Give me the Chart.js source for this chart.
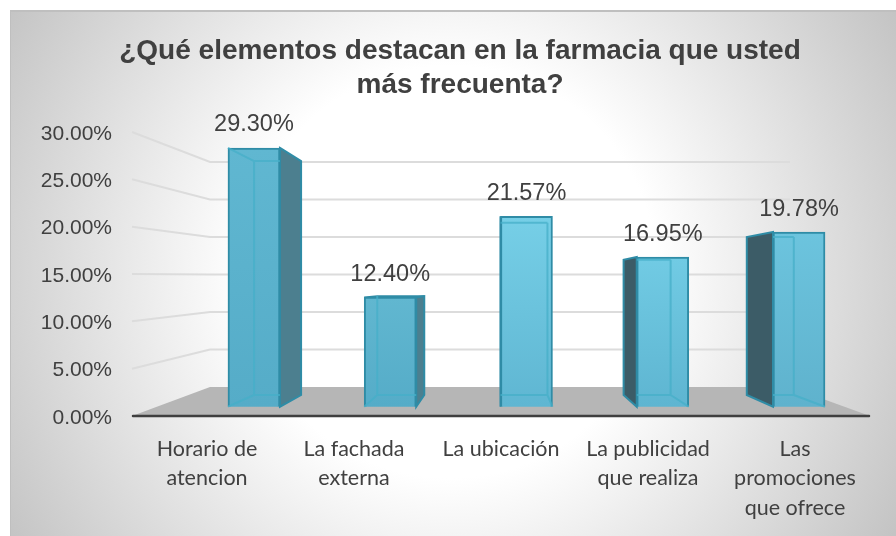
<!DOCTYPE html>
<html>
<head>
<meta charset="utf-8">
<style>
  html, body { margin: 0; padding: 0; background: #fff; }
  canvas { display: block; }
</style>
<script src="https://cdn.jsdelivr.net/npm/chart.js@4/dist/chart.umd.min.js"></script>
</head>
<body>
<canvas id="chart" width="896" height="536"></canvas>
<script>
const titleLines = ['¿Qué elementos destacan en la farmacia que usted', 'más frecuenta?'];
const categories = [
  ['Horario de', 'atencion'],
  ['La fachada', 'externa'],
  ['La ubicación'],
  ['La publicidad', 'que realiza'],
  ['Las', 'promociones', 'que ofrece']
];
const values = [29.30, 12.40, 21.57, 16.95, 19.78];

// shade of each front face, top and bottom
const faceTop = ['#60b7d1', '#61b7d0', '#76cfe7', '#71cbe4', '#6cc4de'];
const faceBottom = ['#55acc8', '#55acc8', '#5fb6d2', '#5eb5d1', '#5fb2cd'];

// the fake 3d: vanishing point and how far back the rear of a bar sits
const vanish = { x: 500, y: 285 };
const depth = 0.096;
const back = (x, y) => [x + (vanish.x - x) * depth, y + (vanish.y - y) * depth];

const textColor = '#404040';
const edgeColor = '#2f8ca6';

function poly(ctx, pts, fill, stroke, lw) {
  ctx.beginPath();
  pts.forEach((p, i) => i ? ctx.lineTo(p[0], p[1]) : ctx.moveTo(p[0], p[1]));
  ctx.closePath();
  if (fill) { ctx.fillStyle = fill; ctx.fill(); }
  if (stroke) { ctx.strokeStyle = stroke; ctx.lineWidth = lw; ctx.stroke(); }
}

const scene = {
  id: 'scene',
  afterLayout(chart) {
    // title sits right of the middle of the frame
    chart.titleBlock.left = 51.5;
  },
  beforeDraw(chart) {
    const ctx = chart.ctx;
    ctx.save();
    const g = ctx.createRadialGradient(450, 272, 0, 450, 272, 515);
    g.addColorStop(0, '#ffffff');
    g.addColorStop(0.4, '#ffffff');
    g.addColorStop(1, '#c4c4c4');
    ctx.fillStyle = g;
    ctx.fillRect(10, 10, 886, 526);
    ctx.fillStyle = '#bfbfbf';
    ctx.fillRect(10, 10, 886, 2);
    ctx.fillRect(10, 10, 1, 526);
    ctx.restore();
  },
  beforeDatasetsDraw(chart) {
    const ctx = chart.ctx;
    const { y, wall } = chart.scales;
    ctx.save();

    // floor
    poly(ctx, [[132, y.getPixelForValue(0)], [870, y.getPixelForValue(0)],
      [790, wall.getPixelForValue(0)], [210, wall.getPixelForValue(0)]], '#b6b6b6');

    // gridlines bend from the side wall onto the back wall
    ctx.strokeStyle = '#dcdcdc';
    ctx.lineWidth = 2;
    y.ticks.forEach(t => {
      if (t.value === 0) return;
      ctx.beginPath();
      ctx.moveTo(132, y.getPixelForValue(t.value));
      ctx.lineTo(210, wall.getPixelForValue(t.value));
      ctx.lineTo(790, wall.getPixelForValue(t.value));
      ctx.stroke();
    });

    // axis line
    ctx.strokeStyle = '#3f3f3f';
    ctx.lineWidth = 2.5;
    ctx.lineCap = 'round';
    ctx.beginPath();
    ctx.moveTo(133, y.getPixelForValue(0));
    ctx.lineTo(869, y.getPixelForValue(0));
    ctx.stroke();
    ctx.lineCap = 'butt';

    // rear, side and top of each bar
    chart.getDatasetMeta(0).data.forEach(el => {
      const x0 = el.x - el.width / 2, x1 = el.x + el.width / 2;
      const top = el.y, base = el.base;
      const bl = back(x0, top), br = back(x1, top), bbl = back(x0, base), bbr = back(x1, base);
      poly(ctx, [bl, br, bbr, bbl], '#5aaec8');
      if (bl[0] < x0) poly(ctx, [[x0, top], bl, bbl, [x0, base]], '#3c5c67', edgeColor, 2);
      if (br[0] > x1) poly(ctx, [[x1, top], br, bbr, [x1, base]], '#4c7f8f', edgeColor, 2);
      if (bl[1] < top) poly(ctx, [[x0, top], bl, br, [x1, top]], edgeColor, edgeColor, 1.5);
    });
    ctx.restore();
  },
  afterDatasetsDraw(chart) {
    const ctx = chart.ctx;
    ctx.save();
    chart.getDatasetMeta(0).data.forEach((el, i) => {
      const x0 = el.x - el.width / 2, x1 = el.x + el.width / 2;
      const top = el.y, base = el.base;
      const bl = back(x0, top), br = back(x1, top), bbl = back(x0, base), bbr = back(x1, base);

      // rear edges seen through the front
      ctx.strokeStyle = 'rgba(70,175,200,0.75)';
      ctx.lineWidth = 2;
      ctx.beginPath();
      if (bl[0] >= x0) { ctx.moveTo(bl[0], bl[1]); ctx.lineTo(bbl[0], bbl[1]); ctx.moveTo(x0, base); ctx.lineTo(bbl[0], bbl[1]); }
      if (br[0] <= x1) { ctx.moveTo(br[0], br[1]); ctx.lineTo(bbr[0], bbr[1]); ctx.moveTo(x1, base); ctx.lineTo(bbr[0], bbr[1]); }
      ctx.moveTo(Math.max(bbl[0], x0), bbl[1]); ctx.lineTo(Math.min(bbr[0], x1), bbr[1]);
      if (bl[1] > top) {
        ctx.moveTo(Math.max(bl[0], x0), bl[1]); ctx.lineTo(Math.min(br[0], x1), br[1]);
        if (bl[0] >= x0) { ctx.moveTo(x0, top); ctx.lineTo(bl[0], bl[1]); }
      }
      ctx.stroke();

      // value label
      ctx.fillStyle = textColor;
      ctx.font = '23.5px "Liberation Sans"';
      ctx.textAlign = 'center';
      ctx.textBaseline = 'middle';
      ctx.fillText(values[i].toFixed(2) + '%', el.x, top - 23);
    });
    ctx.restore();
  }
};

new Chart(document.getElementById('chart'), {
  type: 'bar',
  data: {
    labels: categories,
    datasets: [{
      data: values.map((v, i) => ({ x: i, y: v })),
      xAxisID: 'barsX',
      yAxisID: 'bars',
      barThickness: 52,
      borderWidth: 2,
      borderColor: edgeColor,
      backgroundColor(c) {
        const chart = c.chart;
        if (!chart.chartArea) return faceTop[c.dataIndex];
        const s = chart.scales.bars;
        const g = chart.ctx.createLinearGradient(0, s.getPixelForValue(values[c.dataIndex]), 0, s.getPixelForValue(0));
        g.addColorStop(0, faceTop[c.dataIndex]);
        g.addColorStop(1, faceBottom[c.dataIndex]);
        return g;
      }
    }]
  },
  plugins: [scene],
  options: {
    responsive: false,
    animation: false,
    layout: { padding: { left: 30, right: 27.5, top: 0, bottom: 0 } },
    plugins: {
      legend: { display: false },
      tooltip: { enabled: false },
      title: {
        display: true,
        text: titleLines,
        color: textColor,
        font: { family: '"Liberation Sans"', size: 28, weight: 'bold', lineHeight: 1.214 },
        padding: { top: 34, bottom: 30 }
      }
    },
    scales: {
      x: {
        offset: true,
        grid: { display: false },
        border: { display: false },
        afterFit(s) { s.height = 120; },
        ticks: {
          color: textColor,
          autoSkip: false,
          maxRotation: 0,
          padding: 10,
          font: { family: 'Lato', size: 21.5, lineHeight: 1.37 }
        }
      },
      y: {
        min: 0,
        max: 30,
        grid: { display: false },
        border: { display: false },
        afterFit(s) { s.width = 103.5; },
        ticks: {
          stepSize: 5,
          color: textColor,
          padding: 13.5,
          labelOffset: 2,
          font: { family: '"Liberation Sans"', size: 21 },
          callback: v => v.toFixed(2) + '%'
        }
      },
      // the bars stand between the front edge and the back wall, so each
      // plane gets its own hidden scale over the same plot area
      barsX: { axis: 'x', type: 'linear', offset: false, display: false, min: -0.884, max: 4.51 },
      bars: { axis: 'y', type: 'linear', position: 'left', display: false, min: -1.053, max: 31.11 },
      wall: { axis: 'y', type: 'linear', position: 'left', display: false, min: -3.87, max: 34 }
    }
  }
});
</script>
</body>
</html>
